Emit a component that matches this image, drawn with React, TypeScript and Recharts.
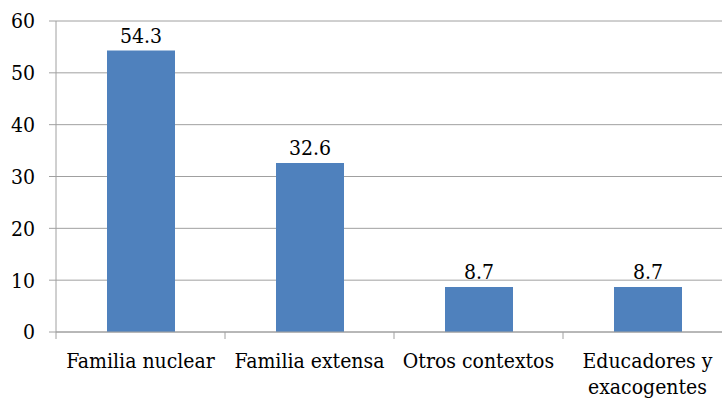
import { BarChart, Bar, XAxis, YAxis, CartesianGrid, LabelList } from 'recharts';

const categories = ['Familia nuclear', 'Familia extensa', 'Otros contextos', 'Educadores y\nexacogentes'];
const values = [54.3, 32.6, 8.7, 8.7];
const yTicks = [0, 10, 20, 30, 40, 50, 60];

const CHART_W = 732;
const CHART_H = 400;
const Y_AXIS_W = 56;
const BAND = (CHART_W - Y_AXIS_W) / categories.length;
const GRID = '#A0A0A0';
const BAR = '#4F81BD';
const FONT = "'DejaVu Serif Condensed', 'DejaVu Serif', serif";
const FONT_SIZE = 21;

// Excel-style category axis: ticks sit between categories, labels may wrap
function CategoryTick({ x, y, payload, index }: any) {
  const lines = String(payload.value).split('\n');
  const left = x - BAND / 2;
  return (
    <g>
      <line x1={left} x2={left} y1={y} y2={y + 7} stroke={GRID} />
      {index === categories.length - 1 && (
        <line x1={left + BAND} x2={left + BAND} y1={y} y2={y + 7} stroke={GRID} />
      )}
      <text
        x={x}
        y={y}
        textAnchor="middle"
        fill="#000"
        style={{ fontFamily: FONT, fontSize: FONT_SIZE, fontStretch: 'condensed' }}
      >
        {lines.map((line, i) => (
          <tspan key={i} x={x} dy={i === 0 ? 36 : 26}>
            {line}
          </tspan>
        ))}
      </text>
    </g>
  );
}

export default function App() {
  const chartData = categories.map((name, i) => ({ name, value: values[i] }));

  return (
    <div
      style={{
        position: 'absolute',
        left: 0,
        top: 0,
        width: 722,
        height: CHART_H,
        overflow: 'hidden',
        background: '#fff',
        fontFamily: FONT,
      }}
    >
      <BarChart width={CHART_W} height={CHART_H} data={chartData} margin={{ top: 21, right: 0, left: 0, bottom: 0 }}>
        <CartesianGrid vertical={false} stroke={GRID} />
        <XAxis
          dataKey="name"
          height={68}
          interval={0}
          axisLine={{ stroke: GRID }}
          tickLine={false}
          tickSize={0}
          tickMargin={0}
          tick={<CategoryTick />}
        />
        <YAxis
          width={Y_AXIS_W}
          domain={[0, 60]}
          ticks={yTicks}
          interval={0}
          axisLine={{ stroke: GRID }}
          tickLine={{ stroke: GRID }}
          tickSize={7}
          tickMargin={14}
          tick={{ fill: '#000', fontSize: FONT_SIZE, style: { fontFamily: FONT, fontStretch: 'condensed' } }}
        />
        <Bar dataKey="value" fill={BAR} barSize={68} isAnimationActive={false}>
          <LabelList
            dataKey="value"
            position="top"
            offset={8}
            fill="#000"
            fontSize={FONT_SIZE}
            style={{ fontFamily: FONT, fontStretch: 'condensed' }}
            formatter={(v: any) => Number(v).toFixed(1)}
          />
        </Bar>
      </BarChart>
    </div>
  );
}
